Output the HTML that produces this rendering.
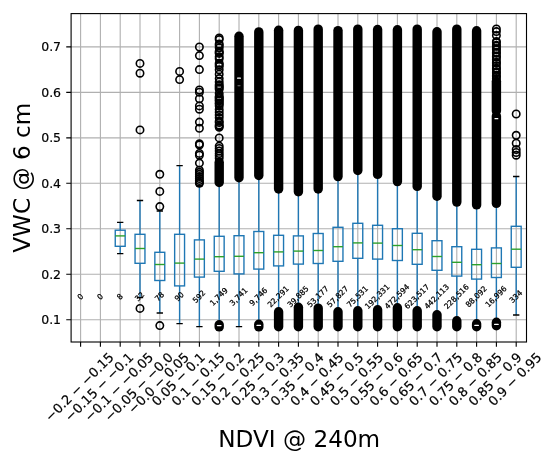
<!DOCTYPE html>
<html><head><meta charset="utf-8"><title>VWC vs NDVI boxplot</title>
<style>html,body{margin:0;padding:0;background:#fff}svg{display:block}</style></head>
<body>
<svg width="550" height="459" viewBox="0 0 550 459" font-family="'DejaVu Sans', 'Liberation Sans', sans-serif">
<rect width="550" height="459" fill="#fff"/>
<g stroke="#b0b0b0" stroke-width="1.11" fill="none">
<path d="M80.60 13.6 V342.0"/>
<path d="M100.40 13.6 V342.0"/>
<path d="M120.20 13.6 V342.0"/>
<path d="M140.00 13.6 V342.0"/>
<path d="M159.80 13.6 V342.0"/>
<path d="M179.60 13.6 V342.0"/>
<path d="M199.40 13.6 V342.0"/>
<path d="M219.20 13.6 V342.0"/>
<path d="M239.00 13.6 V342.0"/>
<path d="M258.80 13.6 V342.0"/>
<path d="M278.60 13.6 V342.0"/>
<path d="M298.40 13.6 V342.0"/>
<path d="M318.20 13.6 V342.0"/>
<path d="M338.00 13.6 V342.0"/>
<path d="M357.80 13.6 V342.0"/>
<path d="M377.60 13.6 V342.0"/>
<path d="M397.40 13.6 V342.0"/>
<path d="M417.20 13.6 V342.0"/>
<path d="M437.00 13.6 V342.0"/>
<path d="M456.80 13.6 V342.0"/>
<path d="M476.60 13.6 V342.0"/>
<path d="M496.40 13.6 V342.0"/>
<path d="M516.20 13.6 V342.0"/>
<path d="M71.1 319.70 H526.5"/>
<path d="M71.1 274.23 H526.5"/>
<path d="M71.1 228.76 H526.5"/>
<path d="M71.1 183.29 H526.5"/>
<path d="M71.1 137.82 H526.5"/>
<path d="M71.1 92.35 H526.5"/>
<path d="M71.1 46.88 H526.5"/>
</g>
<g stroke="#1f77b4" stroke-width="1.39" fill="none" stroke-linecap="butt"><path d="M120.20 230.20 V222.40 M120.20 246.30 V253.60"/><path d="M140.00 234.30 V200.50 M140.00 263.30 V297.60"/><path d="M159.80 252.30 V211.00 M159.80 280.50 V313.00"/><path d="M179.60 234.30 V165.60 M179.60 285.90 V323.60"/><path d="M199.40 239.90 V186.00 M199.40 277.10 V326.60"/><path d="M219.20 236.30 V184.80 M219.20 271.30 V322.80"/><path d="M239.00 235.70 V179.40 M239.00 273.90 V326.60"/><path d="M258.80 231.50 V176.10 M258.80 269.10 V324.50"/><path d="M278.60 235.30 V190.40 M278.60 265.90 V310.80"/><path d="M298.40 235.90 V194.60 M298.40 264.10 V305.40"/><path d="M318.20 233.50 V189.50 M318.20 263.50 V307.50"/><path d="M338.00 227.30 V177.30 M338.00 261.30 V311.30"/><path d="M357.80 223.30 V171.80 M357.80 258.30 V309.80"/><path d="M377.60 225.30 V175.60 M377.60 259.10 V308.80"/><path d="M397.40 228.70 V182.00 M397.40 260.50 V307.20"/><path d="M417.20 233.30 V187.80 M417.20 264.30 V309.80"/><path d="M437.00 240.70 V197.30 M437.00 270.30 V313.70"/><path d="M456.80 246.70 V203.60 M456.80 276.10 V319.20"/><path d="M476.60 249.30 V205.60 M476.60 279.10 V322.80"/><path d="M496.40 247.90 V204.50 M496.40 277.50 V320.90"/><path d="M516.20 226.30 V176.50 M516.20 267.30 V315.00"/></g>
<g stroke="#000" stroke-width="1.39" fill="none" stroke-linecap="square"><path d="M117.72 222.40 H122.67 M117.72 253.60 H122.67"/><path d="M137.53 200.50 H142.47 M137.53 297.60 H142.47"/><path d="M157.33 211.00 H162.28 M157.33 313.00 H162.28"/><path d="M177.12 165.60 H182.07 M177.12 323.60 H182.07"/><path d="M196.93 186.00 H201.88 M196.93 326.60 H201.88"/><path d="M216.72 184.80 H221.67 M216.72 322.80 H221.67"/><path d="M236.53 179.40 H241.47 M236.53 326.60 H241.47"/><path d="M256.32 176.10 H261.28 M256.32 324.50 H261.28"/><path d="M276.12 190.40 H281.08 M276.12 310.80 H281.08"/><path d="M295.92 194.60 H300.88 M295.92 305.40 H300.88"/><path d="M315.73 189.50 H320.68 M315.73 307.50 H320.68"/><path d="M335.52 177.30 H340.48 M335.52 311.30 H340.48"/><path d="M355.32 171.80 H360.27 M355.32 309.80 H360.27"/><path d="M375.12 175.60 H380.08 M375.12 308.80 H380.08"/><path d="M394.92 182.00 H399.88 M394.92 307.20 H399.88"/><path d="M414.73 187.80 H419.68 M414.73 309.80 H419.68"/><path d="M434.52 197.30 H439.48 M434.52 313.70 H439.48"/><path d="M454.32 203.60 H459.27 M454.32 319.20 H459.27"/><path d="M474.12 205.60 H479.08 M474.12 322.80 H479.08"/><path d="M493.92 204.50 H498.88 M493.92 320.90 H498.88"/><path d="M513.73 176.50 H518.68 M513.73 315.00 H518.68"/></g>
<g stroke="#1f77b4" stroke-width="1.39" fill="none" stroke-linejoin="miter"><rect x="115.25" y="230.20" width="9.90" height="16.10"/><rect x="135.05" y="234.30" width="9.90" height="29.00"/><rect x="154.85" y="252.30" width="9.90" height="28.20"/><rect x="174.65" y="234.30" width="9.90" height="51.60"/><rect x="194.45" y="239.90" width="9.90" height="37.20"/><rect x="214.25" y="236.30" width="9.90" height="35.00"/><rect x="234.05" y="235.70" width="9.90" height="38.20"/><rect x="253.85" y="231.50" width="9.90" height="37.60"/><rect x="273.65" y="235.30" width="9.90" height="30.60"/><rect x="293.45" y="235.90" width="9.90" height="28.20"/><rect x="313.25" y="233.50" width="9.90" height="30.00"/><rect x="333.05" y="227.30" width="9.90" height="34.00"/><rect x="352.85" y="223.30" width="9.90" height="35.00"/><rect x="372.65" y="225.30" width="9.90" height="33.80"/><rect x="392.45" y="228.70" width="9.90" height="31.80"/><rect x="412.25" y="233.30" width="9.90" height="31.00"/><rect x="432.05" y="240.70" width="9.90" height="29.60"/><rect x="451.85" y="246.70" width="9.90" height="29.40"/><rect x="471.65" y="249.30" width="9.90" height="29.80"/><rect x="491.45" y="247.90" width="9.90" height="29.60"/><rect x="511.25" y="226.30" width="9.90" height="41.00"/></g>
<g stroke="#2ca02c" stroke-width="1.39" fill="none"><path d="M115.25 235.90 H125.15"/><path d="M135.05 248.50 H144.95"/><path d="M154.85 264.50 H164.75"/><path d="M174.65 263.10 H184.55"/><path d="M194.45 259.10 H204.35"/><path d="M214.25 256.70 H224.15"/><path d="M234.05 256.30 H243.95"/><path d="M253.85 252.70 H263.75"/><path d="M273.65 251.90 H283.55"/><path d="M293.45 251.10 H303.35"/><path d="M313.25 250.50 H323.15"/><path d="M333.05 246.70 H342.95"/><path d="M352.85 242.90 H362.75"/><path d="M372.65 243.10 H382.55"/><path d="M392.45 245.50 H402.35"/><path d="M412.25 249.70 H422.15"/><path d="M432.05 256.50 H441.95"/><path d="M451.85 262.30 H461.75"/><path d="M471.65 264.70 H481.55"/><path d="M491.45 263.50 H501.35"/><path d="M511.25 249.20 H521.15"/></g>
<g stroke="#000" stroke-width="9.4" stroke-linecap="round" fill="none"><path d="M219.20 162.20 V182.50"/><path d="M496.40 81.20 V110.90"/><path d="M496.40 116.10 V203.40"/><path d="M239.00 36.30 V177.70"/><path d="M258.80 31.90 V175.50"/><path d="M278.60 30.20 V189.00"/><path d="M298.40 30.40 V191.80"/><path d="M318.20 29.10 V189.00"/><path d="M338.00 30.60 V176.60"/><path d="M357.80 29.10 V170.50"/><path d="M377.60 29.50 V174.40"/><path d="M397.40 29.70 V181.60"/><path d="M417.20 29.10 V186.40"/><path d="M437.00 31.70 V196.20"/><path d="M456.80 29.10 V202.10"/><path d="M476.60 30.80 V204.90"/><path d="M278.60 311.70 V326.80"/><path d="M298.40 307.30 V326.80"/><path d="M318.20 308.10 V326.80"/><path d="M338.00 311.70 V326.80"/><path d="M357.80 310.70 V326.80"/><path d="M377.60 309.70 V326.80"/><path d="M397.40 307.70 V326.80"/><path d="M417.20 310.70 V326.80"/><path d="M437.00 314.70 V326.80"/><path d="M456.80 320.70 V326.80"/><path d="M219.20 324.70 V326.90"/><path d="M258.80 324.30 V326.90"/><path d="M476.60 323.70 V326.70"/><path d="M496.40 322.30 V325.70"/></g>
<g fill="#fff"><rect x="216.80" y="324.90" width="4.8" height="1.4" rx="0.7"/><rect x="256.40" y="324.70" width="4.8" height="1.4" rx="0.7"/><rect x="474.20" y="324.70" width="4.8" height="1.4" rx="0.7"/><rect x="494.00" y="323.70" width="4.8" height="1.4" rx="0.7"/><rect x="494.40" y="118.1" width="4" height="1.2" rx="0.6"/><rect x="237.00" y="77.6" width="4" height="1.2" rx="0.6"/><rect x="237.40" y="85.3" width="3.2" height="0.9" rx="0.45" fill="#777"/></g>
<g stroke="#000" stroke-width="1.6" fill="none"><circle cx="140.00" cy="63.40" r="3.7"/><circle cx="140.00" cy="73.20" r="3.7"/><circle cx="140.00" cy="129.90" r="3.7"/><circle cx="140.00" cy="308.40" r="3.7"/><circle cx="159.80" cy="174.30" r="3.7"/><circle cx="159.80" cy="191.40" r="3.7"/><circle cx="159.80" cy="206.60" r="3.7"/><circle cx="159.80" cy="325.60" r="3.7"/><circle cx="179.60" cy="71.40" r="3.7"/><circle cx="179.60" cy="79.60" r="3.7"/><circle cx="199.40" cy="47.00" r="3.7"/><circle cx="199.40" cy="55.60" r="3.7"/><circle cx="199.40" cy="69.60" r="3.7"/><circle cx="199.40" cy="90.00" r="3.7"/><circle cx="199.40" cy="92.20" r="3.7"/><circle cx="199.40" cy="98.70" r="3.7"/><circle cx="199.40" cy="105.90" r="3.7"/><circle cx="199.40" cy="109.20" r="3.7"/><circle cx="199.40" cy="122.10" r="3.7"/><circle cx="199.40" cy="128.30" r="3.7"/><circle cx="199.40" cy="143.80" r="3.7"/><circle cx="199.40" cy="145.00" r="3.7"/><circle cx="199.40" cy="153.40" r="3.7"/><circle cx="199.40" cy="155.20" r="3.7"/><circle cx="199.40" cy="163.10" r="3.7"/><circle cx="199.40" cy="170.20" r="3.7"/><circle cx="199.40" cy="172.30" r="3.7"/><circle cx="199.40" cy="174.30" r="3.7"/><circle cx="199.40" cy="176.60" r="3.7"/><circle cx="199.40" cy="178.60" r="3.7"/><circle cx="199.40" cy="180.60" r="3.7"/><circle cx="199.40" cy="182.20" r="3.7"/><circle cx="199.40" cy="183.20" r="3.7"/><circle cx="516.20" cy="114.00" r="3.7"/><circle cx="516.20" cy="135.30" r="3.7"/><circle cx="516.20" cy="143.20" r="3.7"/><circle cx="516.20" cy="149.50" r="3.7"/><circle cx="516.20" cy="152.50" r="3.7"/><circle cx="516.20" cy="155.20" r="3.7"/><circle cx="219.20" cy="38.00" r="3.7"/><circle cx="219.20" cy="39.60" r="3.7"/><circle cx="219.20" cy="44.00" r="3.7"/><circle cx="219.20" cy="45.40" r="3.7"/><circle cx="219.20" cy="47.80" r="3.7"/><circle cx="219.20" cy="51.20" r="3.7"/><circle cx="219.20" cy="52.40" r="3.7"/><circle cx="219.20" cy="53.40" r="3.7"/><circle cx="219.20" cy="56.80" r="3.7"/><circle cx="219.20" cy="58.80" r="3.7"/><circle cx="219.20" cy="63.20" r="3.7"/><circle cx="219.20" cy="64.80" r="3.7"/><circle cx="219.20" cy="66.40" r="3.7"/><circle cx="219.20" cy="69.80" r="3.7"/><circle cx="219.20" cy="74.20" r="3.7"/><circle cx="219.20" cy="78.60" r="3.7"/><circle cx="219.20" cy="82.00" r="3.7"/><circle cx="219.20" cy="84.80" r="3.7"/><circle cx="219.20" cy="86.20" r="3.7"/><circle cx="219.20" cy="87.80" r="3.7"/><circle cx="219.20" cy="89.20" r="3.7"/><circle cx="219.20" cy="93.60" r="3.7"/><circle cx="219.20" cy="96.40" r="3.7"/><circle cx="219.20" cy="97.40" r="3.7"/><circle cx="219.20" cy="98.60" r="3.7"/><circle cx="219.20" cy="100.00" r="3.7"/><circle cx="219.20" cy="101.00" r="3.7"/><circle cx="219.20" cy="103.00" r="3.7"/><circle cx="219.20" cy="104.00" r="3.7"/><circle cx="219.20" cy="106.00" r="3.7"/><circle cx="219.20" cy="109.40" r="3.7"/><circle cx="219.20" cy="112.20" r="3.7"/><circle cx="219.20" cy="115.00" r="3.7"/><circle cx="219.20" cy="117.80" r="3.7"/><circle cx="219.20" cy="121.20" r="3.7"/><circle cx="219.20" cy="122.60" r="3.7"/><circle cx="219.20" cy="125.00" r="3.7"/><circle cx="219.20" cy="126.20" r="3.7"/><circle cx="219.20" cy="127.20" r="3.7"/><circle cx="219.20" cy="137.90" r="3.7"/><circle cx="219.20" cy="146.10" r="3.7"/><circle cx="219.20" cy="148.50" r="3.7"/><circle cx="219.20" cy="151.00" r="3.7"/><circle cx="219.20" cy="153.60" r="3.7"/><circle cx="219.20" cy="155.80" r="3.7"/><circle cx="219.20" cy="158.20" r="3.7"/><circle cx="496.40" cy="29.00" r="3.7"/><circle cx="496.40" cy="31.60" r="3.7"/><circle cx="496.40" cy="35.60" r="3.7"/><circle cx="496.40" cy="41.40" r="3.7"/><circle cx="496.40" cy="42.60" r="3.7"/><circle cx="496.40" cy="45.20" r="3.7"/><circle cx="496.40" cy="46.20" r="3.7"/><circle cx="496.40" cy="48.80" r="3.7"/><circle cx="496.40" cy="49.80" r="3.7"/><circle cx="496.40" cy="52.40" r="3.7"/><circle cx="496.40" cy="53.20" r="3.7"/><circle cx="496.40" cy="56.20" r="3.7"/><circle cx="496.40" cy="57.00" r="3.7"/><circle cx="496.40" cy="59.60" r="3.7"/><circle cx="496.40" cy="62.20" r="3.7"/><circle cx="496.40" cy="63.20" r="3.7"/><circle cx="496.40" cy="65.80" r="3.7"/><circle cx="496.40" cy="68.20" r="3.7"/><circle cx="496.40" cy="69.20" r="3.7"/><circle cx="496.40" cy="72.00" r="3.7"/><circle cx="496.40" cy="73.00" r="3.7"/><circle cx="496.40" cy="75.40" r="3.7"/><circle cx="496.40" cy="76.60" r="3.7"/><circle cx="496.40" cy="78.40" r="3.7"/></g>
<rect x="71.1" y="13.6" width="455.40" height="328.40" fill="none" stroke="#000" stroke-width="1.11" />
<path d="M80.60 342.0 v4.86 M100.40 342.0 v4.86 M120.20 342.0 v4.86 M140.00 342.0 v4.86 M159.80 342.0 v4.86 M179.60 342.0 v4.86 M199.40 342.0 v4.86 M219.20 342.0 v4.86 M239.00 342.0 v4.86 M258.80 342.0 v4.86 M278.60 342.0 v4.86 M298.40 342.0 v4.86 M318.20 342.0 v4.86 M338.00 342.0 v4.86 M357.80 342.0 v4.86 M377.60 342.0 v4.86 M397.40 342.0 v4.86 M417.20 342.0 v4.86 M437.00 342.0 v4.86 M456.80 342.0 v4.86 M476.60 342.0 v4.86 M496.40 342.0 v4.86 M516.20 342.0 v4.86 M71.1 319.70 h-4.86 M71.1 274.23 h-4.86 M71.1 228.76 h-4.86 M71.1 183.29 h-4.86 M71.1 137.82 h-4.86 M71.1 92.35 h-4.86 M71.1 46.88 h-4.86" stroke="#000" stroke-width="1.11" fill="none"/>
<g font-size="12.5" fill="#000" stroke="#000" stroke-width="0.2" text-anchor="end">
<text x="61.08" y="324.15">0.1</text>
<text x="61.08" y="278.68">0.2</text>
<text x="61.08" y="233.21">0.3</text>
<text x="61.08" y="187.74">0.4</text>
<text x="61.08" y="142.27">0.5</text>
<text x="61.08" y="96.80">0.6</text>
<text x="61.08" y="51.33">0.7</text>
</g>
<g font-size="13.0" fill="#000" stroke="#000" stroke-width="0.2" text-anchor="middle">
<text transform="translate(80.00 387.58) rotate(-45)" x="0" y="3.59">−0.2 − −0.15</text>
<text transform="translate(99.80 387.58) rotate(-45)" x="0" y="3.59">−0.15 − −0.1</text>
<text transform="translate(119.60 387.58) rotate(-45)" x="0" y="3.59">−0.1 − −0.05</text>
<text transform="translate(139.40 387.58) rotate(-45)" x="0" y="3.59">−0.05 − −0.0</text>
<text transform="translate(159.20 383.73) rotate(-45)" x="0" y="3.59">−0.0 − 0.05</text>
<text transform="translate(179.00 379.88) rotate(-45)" x="0" y="3.59">0.05 − 0.1</text>
<text transform="translate(198.80 379.88) rotate(-45)" x="0" y="3.59">0.1 − 0.15</text>
<text transform="translate(218.60 379.88) rotate(-45)" x="0" y="3.59">0.15 − 0.2</text>
<text transform="translate(238.40 379.88) rotate(-45)" x="0" y="3.59">0.2 − 0.25</text>
<text transform="translate(258.20 379.88) rotate(-45)" x="0" y="3.59">0.25 − 0.3</text>
<text transform="translate(278.00 379.88) rotate(-45)" x="0" y="3.59">0.3 − 0.35</text>
<text transform="translate(297.80 379.88) rotate(-45)" x="0" y="3.59">0.35 − 0.4</text>
<text transform="translate(317.60 379.88) rotate(-45)" x="0" y="3.59">0.4 − 0.45</text>
<text transform="translate(337.40 379.88) rotate(-45)" x="0" y="3.59">0.45 − 0.5</text>
<text transform="translate(357.20 379.88) rotate(-45)" x="0" y="3.59">0.5 − 0.55</text>
<text transform="translate(377.00 379.88) rotate(-45)" x="0" y="3.59">0.55 − 0.6</text>
<text transform="translate(396.80 379.88) rotate(-45)" x="0" y="3.59">0.6 − 0.65</text>
<text transform="translate(416.60 379.88) rotate(-45)" x="0" y="3.59">0.65 − 0.7</text>
<text transform="translate(436.40 379.88) rotate(-45)" x="0" y="3.59">0.7 − 0.75</text>
<text transform="translate(456.20 379.88) rotate(-45)" x="0" y="3.59">0.75 − 0.8</text>
<text transform="translate(476.00 379.88) rotate(-45)" x="0" y="3.59">0.8 − 0.85</text>
<text transform="translate(495.80 379.88) rotate(-45)" x="0" y="3.59">0.85 − 0.9</text>
<text transform="translate(515.60 379.88) rotate(-45)" x="0" y="3.59">0.9 − 0.95</text>
</g>
<g font-size="7.6" fill="#000" stroke="#000" stroke-width="0.25" text-anchor="middle">
<text transform="translate(80.60 296.96) rotate(-45)" x="0" y="2.10">0</text>
<text transform="translate(100.40 296.96) rotate(-45)" x="0" y="2.10">0</text>
<text transform="translate(120.20 296.96) rotate(-45)" x="0" y="2.10">8</text>
<text transform="translate(140.00 296.96) rotate(-45)" x="0" y="2.10">32</text>
<text transform="translate(159.80 296.96) rotate(-45)" x="0" y="2.10">78</text>
<text transform="translate(179.60 296.96) rotate(-45)" x="0" y="2.10">90</text>
<text transform="translate(199.40 296.96) rotate(-45)" x="0" y="2.10">592</text>
<text transform="translate(219.20 296.96) rotate(-45)" x="0" y="2.10">1,749</text>
<text transform="translate(239.00 296.96) rotate(-45)" x="0" y="2.10">3,741</text>
<text transform="translate(258.80 296.96) rotate(-45)" x="0" y="2.10">9,746</text>
<text transform="translate(278.60 296.96) rotate(-45)" x="0" y="2.10">22,291</text>
<text transform="translate(298.40 296.96) rotate(-45)" x="0" y="2.10">39,885</text>
<text transform="translate(318.20 296.96) rotate(-45)" x="0" y="2.10">53,177</text>
<text transform="translate(338.00 296.96) rotate(-45)" x="0" y="2.10">57,827</text>
<text transform="translate(357.80 296.96) rotate(-45)" x="0" y="2.10">75,531</text>
<text transform="translate(377.60 296.96) rotate(-45)" x="0" y="2.10">192,331</text>
<text transform="translate(397.40 296.96) rotate(-45)" x="0" y="2.10">472,594</text>
<text transform="translate(417.20 296.96) rotate(-45)" x="0" y="2.10">623,517</text>
<text transform="translate(437.00 296.96) rotate(-45)" x="0" y="2.10">442,113</text>
<text transform="translate(456.80 296.96) rotate(-45)" x="0" y="2.10">228,516</text>
<text transform="translate(476.60 296.96) rotate(-45)" x="0" y="2.10">88,092</text>
<text transform="translate(496.40 296.96) rotate(-45)" x="0" y="2.10">16,996</text>
<text transform="translate(516.20 296.96) rotate(-45)" x="0" y="2.10">334</text>
</g>
<text x="299.20" y="447.1" font-size="23.15" text-anchor="middle" fill="#000">NDVI @ 240m</text>
<text transform="translate(29.8 177.80) rotate(-90)" font-size="23.15" text-anchor="middle" fill="#000">VWC @ 6 cm</text>
</svg>
</body></html>
